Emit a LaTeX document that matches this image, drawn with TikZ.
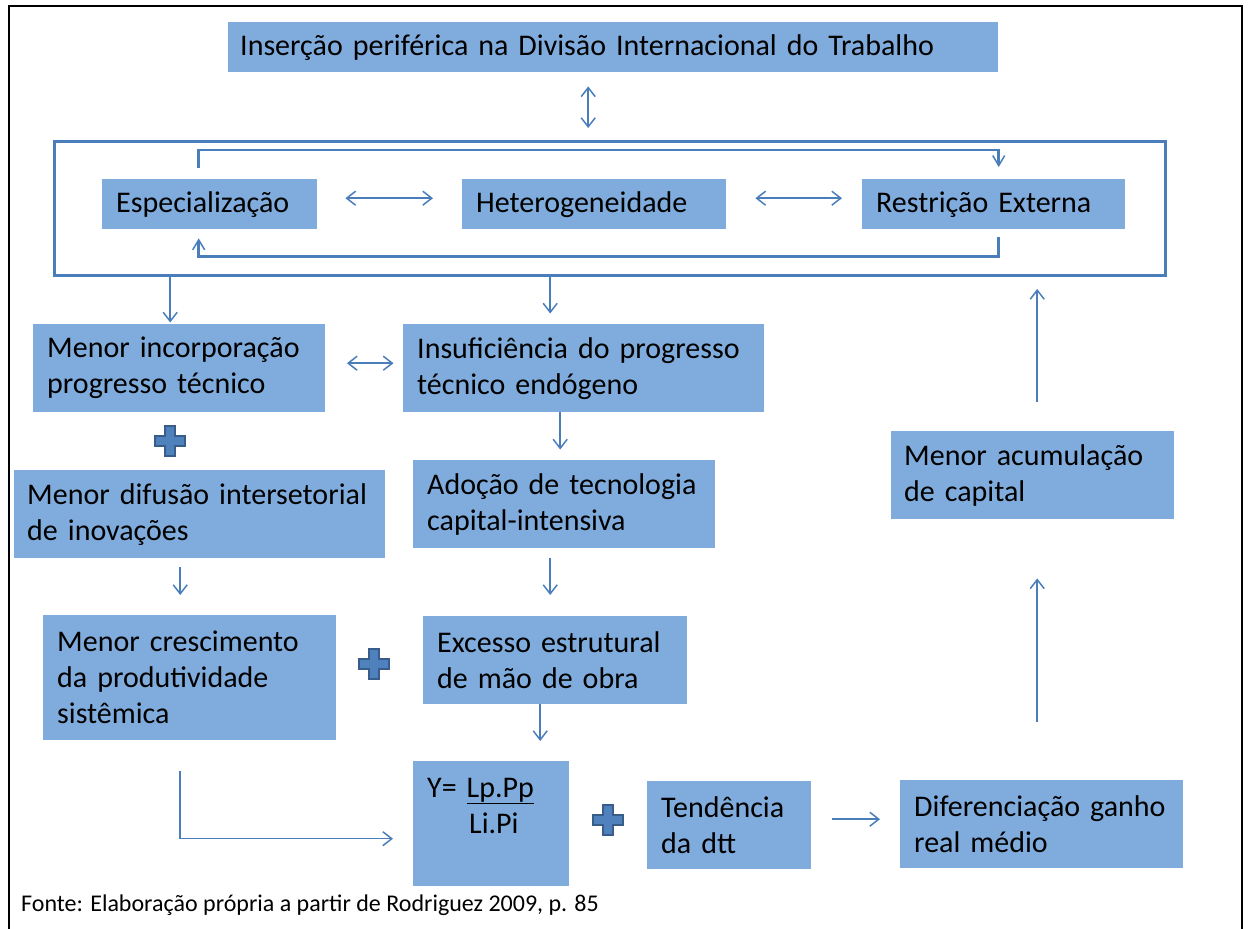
\documentclass[tikz,border=0pt]{standalone}
\usepackage{fontspec}
\setmainfont{Carlito}
\usetikzlibrary{arrows.meta}

\definecolor{caixa}{RGB}{127,172,220}
\definecolor{linha}{RGB}{74,126,187}
\definecolor{cruzborda}{RGB}{56,93,138}
\definecolor{cruzfundo}{RGB}{79,129,189}

\begin{document}
\begin{tikzpicture}[x=1pt,y=-1pt,
    cx/.style={fill=caixa,anchor=north west,align=left,inner xsep=14pt,
      inner ysep=0pt,font=\fontsize{30}{36}\selectfont},
    arw/.style={draw=linha,line width=1.5pt,
      -{Straight Barb[length=9pt,width=14pt]}},
    darw/.style={arw,{Straight Barb[length=9pt,width=14pt]}-{Straight Barb[length=9pt,width=14pt]}},
    laco/.style={draw=linha,line width=2.5pt,
      -{Straight Barb[length=10pt,width=12pt,line width=1.5pt]}},
    cruz/.pic={\filldraw[fill=cruzfundo,draw=cruzborda,line width=2.5pt]
      (-5,-15) -- (5,-15) -- (5,-5) -- (15,-5) -- (15,5) -- (5,5) --
      (5,15) -- (-5,15) -- (-5,5) -- (-15,5) -- (-15,-5) -- (-5,-5) -- cycle;} ]
  \useasboundingbox (0,0) rectangle (1248,929);
  \draw[line width=2pt] (9,929) |- (1242,6) -- (1242,929);

  % caixas
  \node[cx,inner xsep=12pt,text width=746pt,minimum height=50pt] (ins) at (228,22)
    {Inserção~periférica~na~Divisão~Internacional~do~Trabalho};
  \node[draw=linha,line width=3pt,anchor=north west,inner sep=0pt,
    minimum width=1111pt,minimum height=134pt] (bloco) at (53,140) {};
  \node[cx,text width=187pt,minimum height=50pt] (esp) at (102,179) {Especialização};
  \node[cx,text width=236pt,minimum height=50pt] (het) at (462,179) {Heterogeneidade};
  \node[cx,text width=235pt,minimum height=50pt] (res) at (862,179) {Restrição~Externa};
  \node[cx,text width=264pt,minimum height=88pt] (inc) at (33,324)
    {Menor~incorporação\\progresso~técnico};
  \node[cx,text width=333pt,minimum height=88pt] (insu) at (403,324)
    {Insuficiência~do~progresso\\técnico~endógeno};
  \node[cx,inner xsep=13pt,text width=345pt,minimum height=88pt] (dif) at (14,470)
    {Menor~difusão~intersetorial\\de~inovações};
  \node[cx,text width=274pt,minimum height=88pt] (ado) at (413,460)
    {Adoção~de~tecnologia\\capital-intensiva};
  \node[cx,text width=265pt,minimum height=125pt] (cre) at (43,615)
    {Menor~crescimento\\da~produtividade\\sistêmica};
  \node[cx,text width=236pt,minimum height=88pt] (exc) at (423,616)
    {Excesso~estrutural\\de~mão~de~obra};
  \node[cx,text width=128pt,minimum height=125pt] (ybox) at (413,761)
    {Y=~\underline{Lp.Pp}\\\hspace*{42pt}Li.Pi\\\mbox{}};
  \node[cx,text width=136pt,minimum height=88pt] (tend) at (647,781)
    {Tendência\\da~dtt};
  \node[cx,text width=255pt,minimum height=88pt] (difg) at (900,780)
    {Diferenciação~ganho\\real~médio};
  \node[cx,inner xsep=13pt,text width=257pt,minimum height=88pt] (acum) at (891,431)
    {Menor~acumulação\\de~capital};
  \node[anchor=base west,inner sep=0pt,font=\fontsize{24}{28}\selectfont] (fonte)
    at (21,911) {Fonte: Elaboração própria a partir de Rodriguez 2009, p. 85};

  \pic at (170,441) {cruz};
  \pic at (374,664) {cruz};
  \pic at (608,820) {cruz};

  % ligacoes
  \draw[darw,shorten <=14pt,shorten >=12pt] ([xshift=-25pt]ins.south)
    -- ([xshift=-25pt]ins.south |- bloco.north);
  \draw[darw,shorten <=28pt,shorten >=29pt] ([yshift=6pt]esp.east)
    -- ([yshift=6pt]esp.east -| het.west);
  \draw[darw,shorten <=29pt,shorten >=20pt] ([yshift=6pt]het.east)
    -- ([yshift=6pt]het.east -| res.west);
  \draw[laco] ([xshift=-11pt,yshift=11pt]esp.north) |- ([yshift=29pt]het.north)
    -| ([xshift=5pt,yshift=12pt]res.north);
  \draw[laco] ([xshift=5pt,yshift=-8pt]res.south) |- ([yshift=-27pt]het.south)
    -| ([xshift=-11pt,yshift=-9pt]esp.south);
  \draw[arw,shorten >=1.5pt] ([xshift=-9pt]inc.north |- bloco.south)
    -- ([xshift=-9pt]inc.north);
  \draw[arw,shorten >=10.5pt] ([xshift=-33.5pt]insu.north |- bloco.south)
    -- ([xshift=-33.5pt]insu.north);
  \draw[darw,shorten <=21.5pt,shorten >=9.5pt] ([yshift=5pt]inc.east)
    -- ([yshift=5pt]inc.east -| insu.west);
  \draw[arw,shorten >=10.5pt] ([xshift=-23.5pt]insu.south)
    -- ([xshift=-23.5pt]insu.south |- ado.north);
  \draw[arw,shorten <=9pt,shorten >=20pt] ([xshift=-19.5pt]dif.south)
    -- ([xshift=-19.5pt]dif.south |- cre.north);
  \draw[arw,shorten <=10pt,shorten >=21pt] ([xshift=-14pt]ado.south)
    -- ([xshift=-14pt]ado.south |- exc.north);
  \draw[arw,shorten >=20pt] ([xshift=-15pt]exc.south)
    -- ([xshift=-15pt]exc.south |- ybox.north);
  \draw[arw,shorten <=31pt,shorten >=20pt] ([xshift=-9.5pt]cre.south)
    |- ([yshift=-15pt]ybox.west);
  \draw[arw,shorten <=21pt,shorten >=20pt] ([yshift=6pt]tend.east)
    -- ([yshift=6pt]tend.east -| difg.west);
  \draw[arw,shorten <=58pt,shorten >=59pt] ([xshift=-4.5pt]difg.north)
    -- ([xshift=-4.5pt]difg.north |- acum.south);
  \draw[arw,shorten <=29pt,shorten >=12pt] ([xshift=4.5pt]acum.north)
    -- ([xshift=4.5pt]acum.north |- bloco.south);
\end{tikzpicture}
\end{document}
